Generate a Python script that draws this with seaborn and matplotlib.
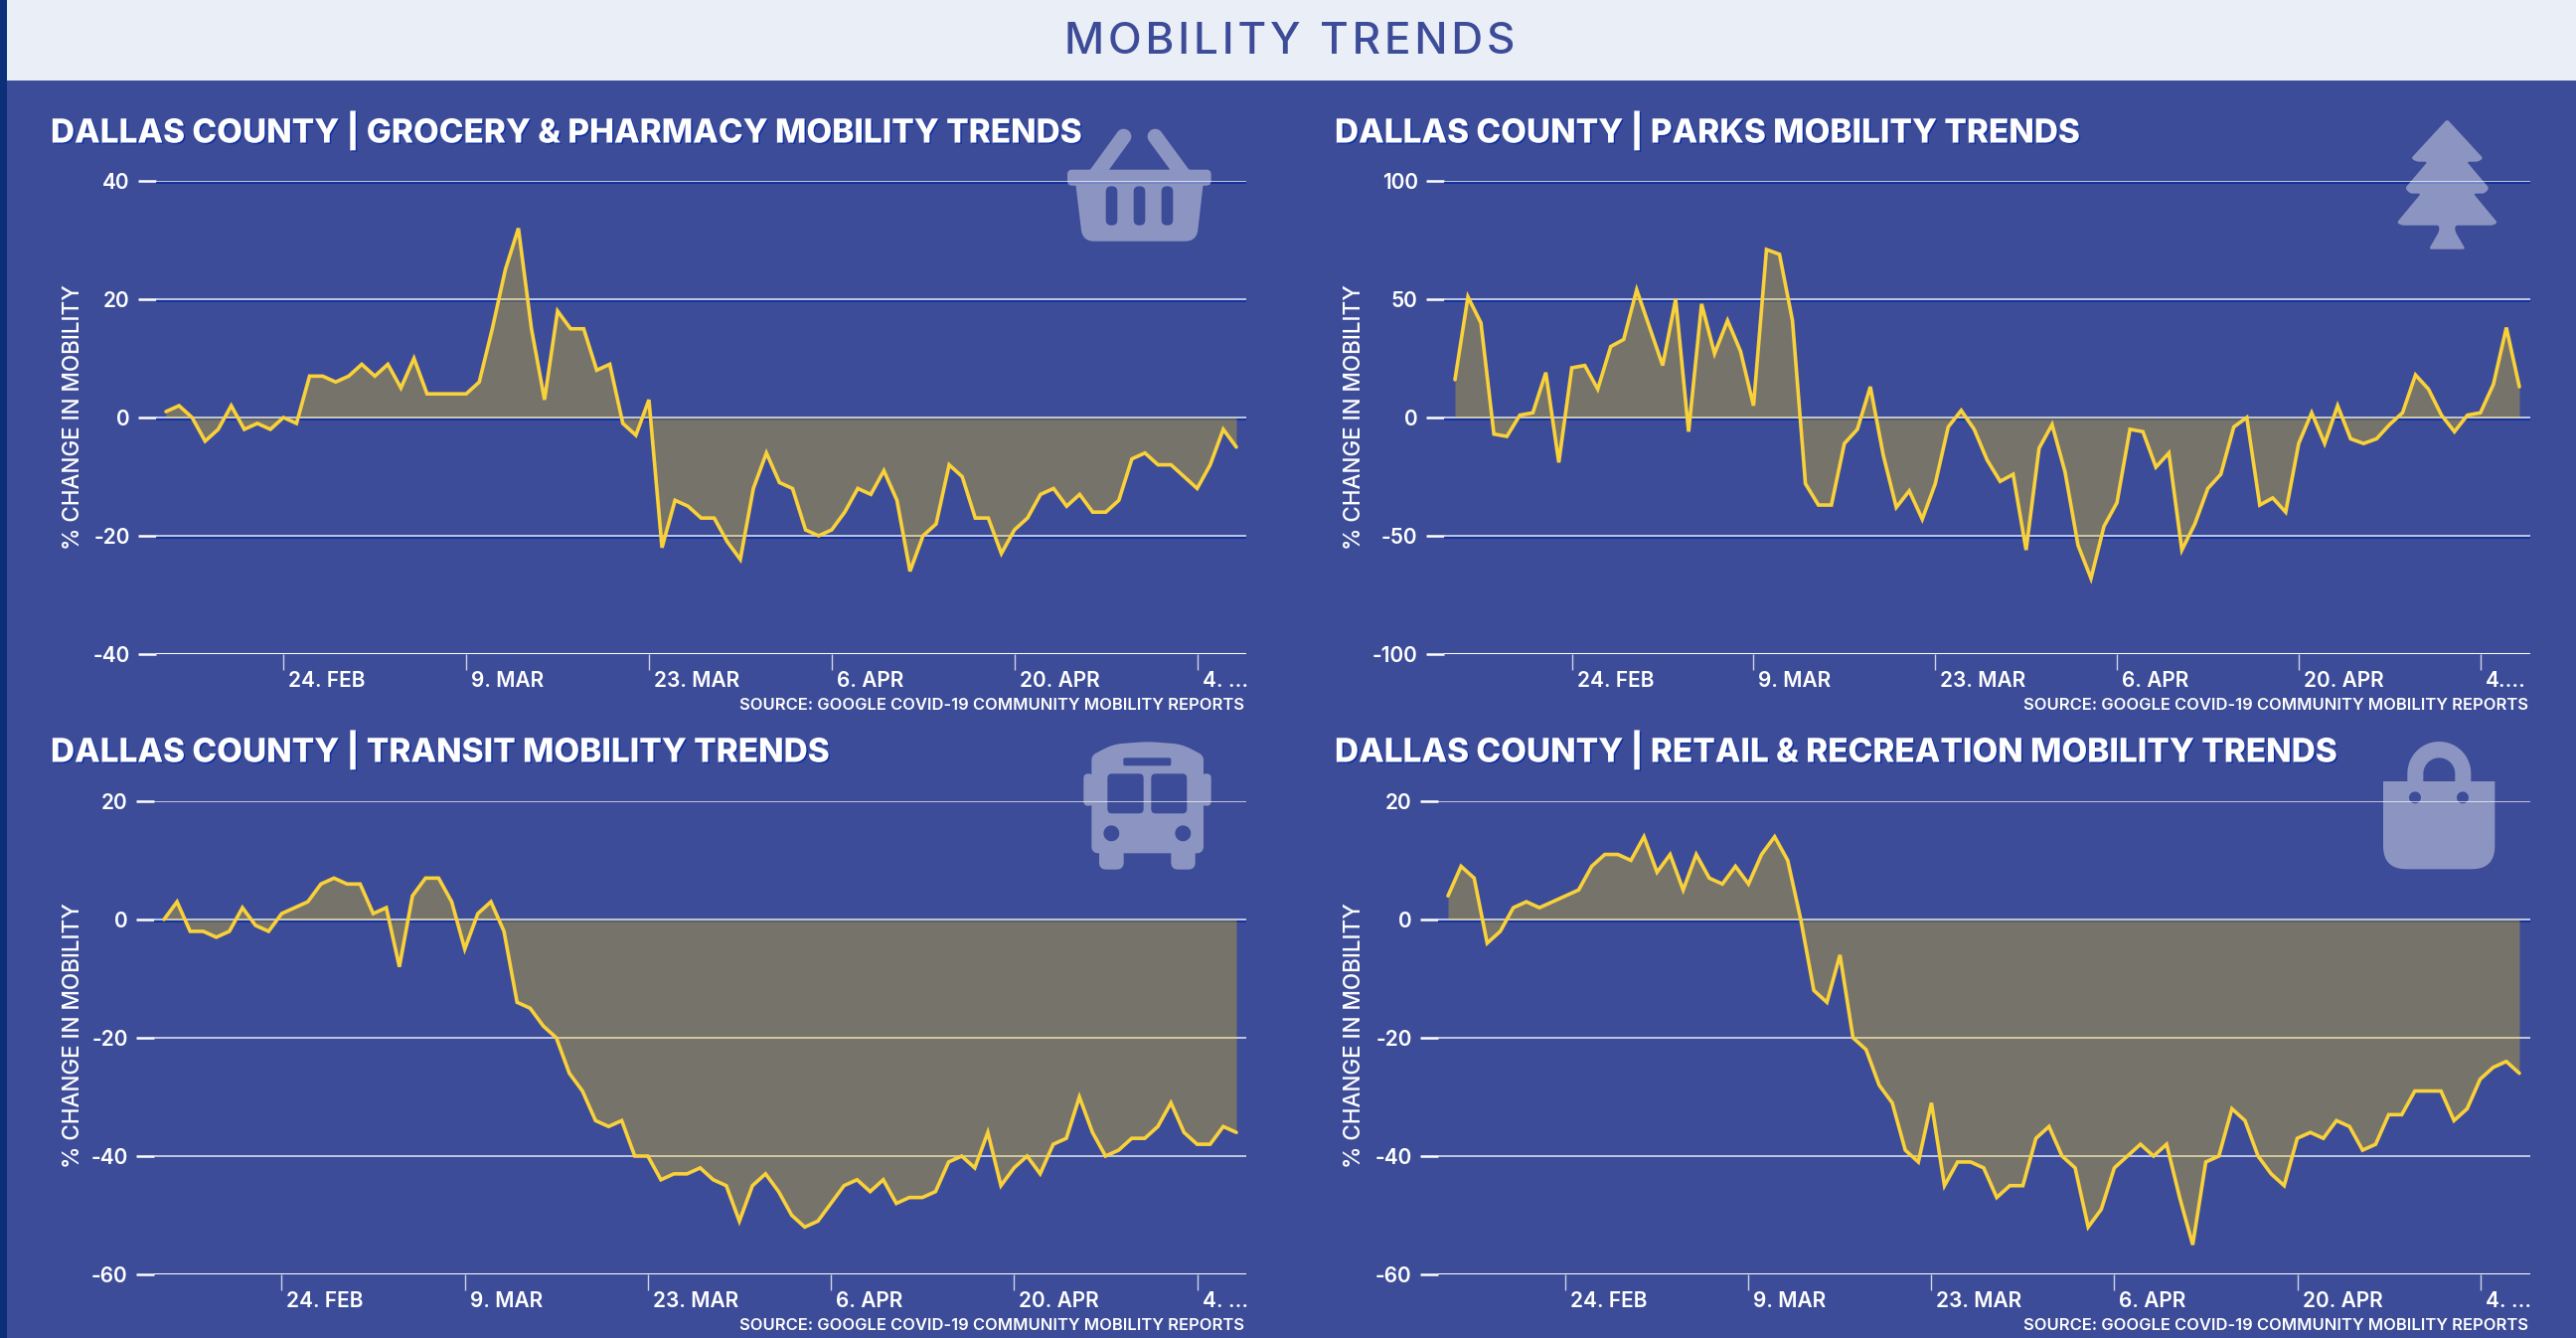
import numpy as np
import pandas as pd
import matplotlib
matplotlib.use("Agg")
import matplotlib.pyplot as plt
import matplotlib.dates as mdates
import matplotlib.patheffects as pe
from matplotlib.path import Path
from matplotlib.patches import PathPatch, Rectangle
from matplotlib.transforms import ScaledTranslation
import seaborn as sns

# Data
start_date = "2020-02-15"
tick_dates = ["2020-02-24", "2020-03-09", "2020-03-23", "2020-04-06", "2020-04-20", "2020-05-04"]
tick_labels = ["24. FEB", "9. MAR", "23. MAR", "6. APR", "20. APR", "4. ..."]
tick_labels_parks = ["24. FEB", "9. MAR", "23. MAR", "6. APR", "20. APR", "4...."]

grocery = [1, 2, 0, -4, -2, 2, -2, -1, -2, 0, -1, 7, 7, 6, 7, 9, 7, 9, 5, 10, 4, 4, 4, 4, 6, 15, 25, 32,
           15, 3, 18, 15, 15, 8, 9, -1, -3, 3, -22, -14, -15, -17, -17, -21, -24, -12, -6, -11, -12, -19,
           -20, -19, -16, -12, -13, -9, -14, -26, -20, -18, -8, -10, -17, -17, -23, -19, -17, -13, -12,
           -15, -13, -16, -16, -14, -7, -6, -8, -8, -10, -12, -8, -2, -5]
parks = [16, 51, 40, -7, -8, 1, 2, 19, -19, 21, 22, 12, 30, 33, 54, 38, 22, 50, -6, 48, 27, 41, 28, 5, 71,
         69, 41, -28, -37, -37, -11, -5, 13, -16, -38, -31, -43, -28, -4, 3, -5, -18, -27, -24, -56, -13,
         -3, -23, -54, -68, -46, -36, -5, -6, -21, -15, -56, -45, -30, -24, -4, 0, -37, -34, -40, -11, 2,
         -11, 5, -9, -11, -9, -3, 2, 18, 12, 1, -6, 1, 2, 14, 38, 13]
transit = [0, 3, -2, -2, -3, -2, 2, -1, -2, 1, 2, 3, 6, 7, 6, 6, 1, 2, -8, 4, 7, 7, 3, -5, 1, 3, -2, -14,
           -15, -18, -20, -26, -29, -34, -35, -34, -40, -40, -44, -43, -43, -42, -44, -45, -51, -45, -43,
           -46, -50, -52, -51, -48, -45, -44, -46, -44, -48, -47, -47, -46, -41, -40, -42, -36, -45, -42,
           -40, -43, -38, -37, -30, -36, -40, -39, -37, -37, -35, -31, -36, -38, -38, -35, -36]
retail = [4, 9, 7, -4, -2, 2, 3, 2, 3, 4, 5, 9, 11, 11, 10, 14, 8, 11, 5, 11, 7, 6, 9, 6, 11, 14, 10, 0,
          -12, -14, -6, -20, -22, -28, -31, -39, -41, -31, -45, -41, -41, -42, -47, -45, -45, -37, -35,
          -40, -42, -52, -49, -42, -40, -38, -40, -38, -47, -55, -41, -40, -32, -34, -40, -43, -45, -37,
          -36, -37, -34, -35, -39, -38, -33, -33, -29, -29, -29, -34, -32, -27, -25, -24, -26]

titles = ["DALLAS COUNTY | GROCERY & PHARMACY MOBILITY TRENDS",
          "DALLAS COUNTY | PARKS MOBILITY TRENDS",
          "DALLAS COUNTY | TRANSIT MOBILITY TRENDS",
          "DALLAS COUNTY | RETAIL & RECREATION MOBILITY TRENDS"]

WIDTH, HEIGHT = 2592, 1346
BG = "#3C4C98"
GOLD = "#F9D13A"
SHADOW = "#0E2F9E"
FONT = "Inter"

sns.set_theme(style="white")
plt.rcParams["font.family"] = [FONT, "DejaVu Sans"]

fig = plt.figure(figsize=(WIDTH / 100, HEIGHT / 100), dpi=100, facecolor=BG)


def px_axes(left, top, right, bottom):
    return fig.add_axes([left / WIDTH, 1 - bottom / HEIGHT, (right - left) / WIDTH, (bottom - top) / HEIGHT])


def draw_panel(values, yticks, box, first_x, last_x, labels, shadow_rows):
    left, top, right, bottom = box
    ax = px_axes(left, top, right, bottom)
    ax.set_facecolor("none")
    dates = pd.date_range(start_date, periods=len(values))
    frame = pd.DataFrame({"date": dates, "value": values})

    for tick in yticks:
        strong = tick == yticks[0]
        effects = []
        if tick in shadow_rows:
            effects = [pe.SimpleLineShadow(offset=(0, -1.4), shadow_color=SHADOW, alpha=1), pe.Normal()]
        ax.axhline(tick, color="white" if strong else "#D8DCEA", lw=2.2 if strong else 1.2, zorder=1,
                   path_effects=effects)

    ax.fill_between(dates, values, 0, color="#FDCE05", alpha=0.3, lw=0, zorder=2)
    sns.lineplot(data=frame, x="date", y="value", ax=ax, color=GOLD, linewidth=2.6, errorbar=None,
                 solid_joinstyle="miter", zorder=3)

    # same day step in pixels on each panel, the axes run a little past the data
    d0 = mdates.date2num(dates[0])
    step = (last_x - first_x) / (len(values) - 1)
    ax.set_xlim(d0 - (first_x - left) / step, d0 + (right - first_x) / step)
    ax.set_ylim(yticks[0], yticks[-1])
    ax.set_yticks(yticks)
    ax.set_yticklabels([str(t) for t in yticks], fontsize=15, color="white", fontweight="semibold")
    ax.set_xticks(pd.to_datetime(tick_dates))
    ax.set_xticklabels(labels, fontsize=15, color="white", fontweight="semibold", ha="left")
    ax.tick_params(axis="y", length=13, width=1.8, color="white", pad=6, left=True)
    ax.tick_params(axis="x", length=11.5, width=1.0, color="#CDD3E6", pad=1, bottom=True)
    # tick_params resets the label transform, so the shift comes after it
    shift = ScaledTranslation(5 / 100, 0, fig.dpi_scale_trans)
    for lbl in ax.get_xticklabels():
        lbl.set_transform(lbl.get_transform() + shift)
    ax.set_xlabel("")
    ax.set_ylabel("")
    sns.despine(ax=ax, left=True, bottom=True)
    return ax


top_axes = (182, 658)
bottom_axes = (806, 1282)
draw_panel(grocery, [-40, -20, 0, 20, 40], (157, top_axes[0], 1254, top_axes[1]), 167, 1244, tick_labels,
           [-40, -20, 0, 20, 40])
draw_panel(parks, [-100, -50, 0, 50, 100], (1453, top_axes[0], 2546, top_axes[1]), 1464, 2535, tick_labels_parks,
           [-100, -50, 0, 50, 100])
draw_panel(transit, [-60, -40, -20, 0, 20], (155, bottom_axes[0], 1254, bottom_axes[1]), 165, 1244, tick_labels,
           [-60, 0])
draw_panel(retail, [-60, -40, -20, 0, 20], (1447, bottom_axes[0], 2546, bottom_axes[1]), 1457, 2535, tick_labels,
           [-60, 0])

# overlay in pixel coordinates for the header, titles and icons
over = fig.add_axes([0, 0, 1, 1], zorder=10)
over.set_xlim(0, WIDTH)
over.set_ylim(HEIGHT, 0)
over.axis("off")
over.patch.set_alpha(0)

over.add_patch(Rectangle((7, 0), WIDTH - 7, 81, color="#EAEEF6", lw=0))
over.add_patch(Rectangle((0, 0), 7, HEIGHT, color="#0B2F78", lw=0))
title_text = "\u200a".join("MOBILITY TRENDS")
over.text(1298, 42, title_text, ha="center", va="center", fontsize=31.7, color=BG, fontweight="medium")

text_shadow = [pe.withSimplePatchShadow(offset=(1, -1), shadow_rgbFace=SHADOW, alpha=1)]
panel_text = [(51, 131, 74, 420, 1252, 709), (1343, 131, 1363, 420, 2544, 709),
              (51, 754, 74, 1042, 1252, 1333), (1343, 754, 1363, 1042, 2544, 1333)]
for name, (tx, ty, lx, ly, sx, sy) in zip(titles, panel_text):
    over.text(tx, ty, name, ha="left", va="center", fontsize=24, color="white", fontweight="heavy",
              path_effects=text_shadow)
    over.text(lx, ly, "% CHANGE IN MOBILITY", ha="center", va="center", rotation=90, fontsize=16.2,
              color="white", fontweight="medium")
    over.text(sx, sy, "SOURCE: GOOGLE COVID-19 COMMUNITY MOBILITY REPORTS", ha="right", va="center",
              fontsize=11.9, color="white", fontweight="semibold")


# icon helpers, polygons in pixels
def arc(cx, cy, r, a0, a1, n=24):
    t = np.radians(np.linspace(a0, a1, n))
    return np.column_stack([cx + r * np.cos(t), cy + r * np.sin(t)])


def rounded(points, radius):
    pts = np.asarray(points, dtype=float)
    radii = np.broadcast_to(radius, len(pts))
    out = []
    for i, p in enumerate(pts):
        a, b = pts[i - 1], pts[(i + 1) % len(pts)]
        r = radii[i]
        if r == 0:
            out.append(p[None])
            continue
        da, db = a - p, b - p
        r = min(r, np.linalg.norm(da) / 2, np.linalg.norm(db) / 2)
        p0 = p + da / np.linalg.norm(da) * r
        p1 = p + db / np.linalg.norm(db) * r
        t = np.linspace(0, 1, 10)[:, None]
        out.append((1 - t) ** 2 * p0 + 2 * t * (1 - t) * p + t ** 2 * p1)
    return np.vstack(out)


def rrect(x0, y0, x1, y1, r):
    return rounded([(x0, y0), (x1, y0), (x1, y1), (x0, y1)], r)


def capsule(p0, p1, w):
    p0, p1 = np.array(p0, float), np.array(p1, float)
    ang = np.degrees(np.arctan2(*(p1 - p0)[::-1]))
    return np.vstack([arc(*p0, w / 2, ang + 90, ang + 270), arc(*p1, w / 2, ang - 90, ang + 90)])


def oriented(poly, positive):
    x, y = poly[:, 0], poly[:, 1]
    area = np.sum(x * np.roll(y, -1) - np.roll(x, -1) * y)
    return poly if (area > 0) == positive else poly[::-1]


def add_icon(outers, holes, origin):
    # zoom crop coordinates are 3x the picture
    verts, codes = [], []
    polys = [oriented(p, True) for p in outers] + [oriented(p, False) for p in holes]
    for p in polys:
        p = np.asarray(p) / 3 + origin
        verts.extend(p.tolist() + [p[0].tolist()])
        codes.extend([Path.MOVETO] + [Path.LINETO] * (len(p) - 1) + [Path.CLOSEPOLY])
    over.add_patch(PathPatch(Path(verts, codes), facecolor="white", alpha=0.41, lw=0))


# basket
add_icon([rrect(222, 212, 656, 260, 15),
          rounded([(247, 255), (632, 255), (612, 428), (268, 428)], [0, 0, 35, 35]),
          capsule((392, 112), (310, 225), 46), capsule((487, 112), (570, 225), 46)],
         [rrect(338, 262, 373, 380, 17), rrect(422, 262, 457, 380, 17), rrect(506, 262, 541, 380, 17)],
         (1000, 100))
# tree
add_icon([rounded([(337, 60), (228, 178), (245, 188), (278, 188), (210, 268), (225, 284), (258, 284), (185, 372),
                   (200, 380), (313, 380), (313, 398), (282, 452), (392, 452), (361, 398), (361, 380),
                   (475, 380), (489, 372), (416, 284), (450, 284), (464, 268), (396, 188), (430, 188),
                   (446, 178)], 9)],
         [], (2350, 100))
# bus
add_icon([rounded([(145, 120), (145, 90), (210, 56), (314, 48), (418, 56), (483, 90), (483, 120), (483, 385),
                   (145, 385)], [0, 22, 30, 30, 30, 22, 0, 22, 22]),
          rrect(121, 145, 150, 242, 20), rrect(478, 145, 506, 242, 20),
          rrect(168, 370, 242, 434, 22), rrect(385, 370, 458, 434, 22)],
         [rrect(241, 97, 385, 121, 6), rrect(193, 145, 302, 265, 14), rrect(325, 145, 433, 265, 14),
          arc(205, 325, 24, 0, 360), arc(421, 325, 24, 0, 360)],
         (1050, 730))
# bag
add_icon([rounded([(114, 168), (451, 168), (451, 433), (114, 433)], [0, 0, 70, 70]),
          np.vstack([arc(283, 144, 96, 180, 360), [(379, 170), (331, 170)], arc(283, 145, 48, 360, 180), [(235, 170), (187, 170)]])],
         [arc(210, 217, 18, 0, 360), arc(354, 217, 18, 0, 360)],
         (2360, 730))

fig.savefig("out.png", dpi=100, facecolor=BG)
